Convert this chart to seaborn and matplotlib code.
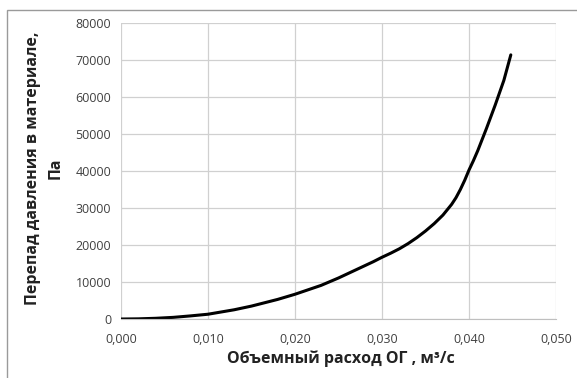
import matplotlib
matplotlib.use('Agg')
import matplotlib.pyplot as plt
from matplotlib.patches import Rectangle
import seaborn as sns
import pandas as pd

# values
flow = [0.000, 0.002, 0.004, 0.006, 0.008, 0.010, 0.011, 0.012, 0.013, 0.014,
        0.015, 0.016, 0.017, 0.018, 0.019, 0.020, 0.021, 0.022, 0.023, 0.024,
        0.025, 0.026, 0.027, 0.028, 0.029, 0.030, 0.031, 0.032, 0.033, 0.034,
        0.035, 0.036, 0.037, 0.038, 0.0385, 0.039, 0.0395, 0.040, 0.0405,
        0.041, 0.042, 0.043, 0.044, 0.0448]
dp = [0, 50, 200, 450, 850, 1300, 1700, 2100, 2500, 3000,
      3500, 4100, 4700, 5300, 6000, 6700, 7500, 8300, 9100, 10100,
      11100, 12200, 13300, 14400, 15500, 16700, 17800, 19000, 20400, 22000,
      23800, 25800, 28100, 31000, 32800, 35000, 37500, 40300, 42800,
      45500, 51500, 57800, 64500, 71400]
xticks = [0.0, 0.01, 0.02, 0.03, 0.04, 0.05]
yticks = [0, 10000, 20000, 30000, 40000, 50000, 60000, 70000, 80000]

sns.set_style('white')
plt.rcParams['font.family'] = ['Open Sans', 'DejaVu Sans']

df = pd.DataFrame({'flow': flow, 'dp': dp})

fig = plt.figure(figsize=(5.77, 3.78), dpi=100)
ax = fig.add_axes([0.2097, 0.156, 0.754, 0.783])

sns.lineplot(data=df, x='flow', y='dp', color='black', linewidth=2.2, ax=ax)

ax.set_xlim(0, 0.05)
ax.set_ylim(0, 80000)
ax.set_xticks(xticks)
ax.set_yticks(yticks)
ax.set_xticklabels([f'{v:.3f}'.replace('.', ',') for v in xticks])
ax.set_yticklabels([str(v) for v in yticks])
ax.grid(True, color='#d0d0d0', linewidth=0.9)
for s in ['top', 'right', 'left']:
    ax.spines[s].set_visible(False)
ax.spines['bottom'].set_color('#bfbfbf')
ax.tick_params(axis='both', labelsize=9, colors='#404040', length=0, pad=7)
ax.tick_params(axis='x', pad=10)

ax.set_xlabel('Объемный расход ОГ , м³/с', fontsize=11.5, fontweight='bold',
              color='#222222')
ax.xaxis.set_label_coords(0.506, -0.105)
ax.set_ylabel('Перепад давления в материале,\nПа', fontsize=11.5,
              fontweight='bold', color='#222222', linespacing=1.55)
ax.yaxis.set_label_coords(-0.176, 0.51)
ax.yaxis.label.set_va('center')

# outer chart border
fig.patches.append(Rectangle((7 / 577, -0.1), 1.2, 1 - 10 / 378 + 0.1,
                             transform=fig.transFigure, fill=False,
                             edgecolor='#9a9a9a', linewidth=1))

fig.savefig('out.png', dpi=100, facecolor='white')
